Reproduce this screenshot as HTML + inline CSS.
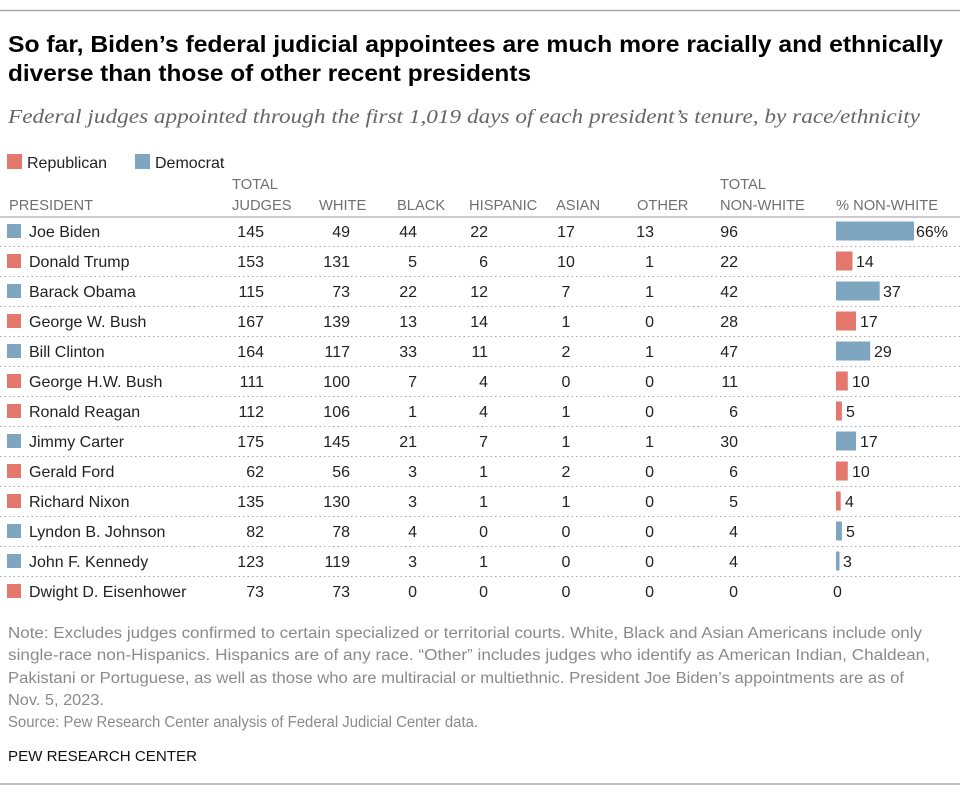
<!DOCTYPE html>
<html><head><meta charset="utf-8"><style>
html,body{margin:0;padding:0;background:#fff;}
svg{display:block;}
text{font-family:"Liberation Sans",sans-serif;}
</style></head><body>
<svg width="960" height="793" viewBox="0 0 960 793" xmlns="http://www.w3.org/2000/svg">
<line x1="0" y1="10.5" x2="960" y2="10.5" stroke="#aaa" stroke-width="1.5"/>
<text x="8" y="52" font-size="23" font-weight="bold" fill="#000" textLength="935" lengthAdjust="spacingAndGlyphs">So far, Biden’s federal judicial appointees are much more racially and ethnically</text>
<text x="8" y="81" font-size="23" font-weight="bold" fill="#000" textLength="523" lengthAdjust="spacingAndGlyphs">diverse than those of other recent presidents</text>
<text x="8" y="123" font-size="20" font-style="italic" fill="#666" style="font-family:'Liberation Serif',serif" textLength="912" lengthAdjust="spacingAndGlyphs">Federal judges appointed through the first 1,019 days of each president’s tenure, by race/ethnicity</text>
<rect x="7" y="154" width="15" height="15" fill="#e5786d"/>
<text x="27" y="168" font-size="16" fill="#222">Republican</text>
<rect x="135" y="154" width="15" height="15" fill="#7ea6c1"/>
<text x="155" y="168" font-size="16" fill="#222">Democrat</text>
<g font-size="14.7" fill="#707070">
<text x="232" y="189">TOTAL</text>
<text x="720" y="189">TOTAL</text>
<text x="9" y="210">PRESIDENT</text>
<text x="232" y="210">JUDGES</text>
<text x="319" y="210">WHITE</text>
<text x="397" y="210">BLACK</text>
<text x="469" y="210">HISPANIC</text>
<text x="556" y="210">ASIAN</text>
<text x="637" y="210">OTHER</text>
<text x="720" y="210">NON-WHITE</text>
<text x="836" y="210">% NON-WHITE</text>
</g>
<line x1="0" y1="217" x2="960" y2="217" stroke="#ccc" stroke-width="2"/>

<g stroke="#aaa" stroke-width="1" stroke-dasharray="1.5 3">
<line x1="0" y1="246.5" x2="960" y2="246.5"/>
<line x1="0" y1="276.5" x2="960" y2="276.5"/>
<line x1="0" y1="306.5" x2="960" y2="306.5"/>
<line x1="0" y1="336.5" x2="960" y2="336.5"/>
<line x1="0" y1="366.5" x2="960" y2="366.5"/>
<line x1="0" y1="396.5" x2="960" y2="396.5"/>
<line x1="0" y1="426.5" x2="960" y2="426.5"/>
<line x1="0" y1="456.5" x2="960" y2="456.5"/>
<line x1="0" y1="486.5" x2="960" y2="486.5"/>
<line x1="0" y1="516.5" x2="960" y2="516.5"/>
<line x1="0" y1="546.5" x2="960" y2="546.5"/>
<line x1="0" y1="576.5" x2="960" y2="576.5"/>
</g>

<g>
<rect x="7" y="224" width="14" height="14" fill="#7ea6c1"/>
<rect x="7" y="254" width="14" height="14" fill="#e5786d"/>
<rect x="7" y="284" width="14" height="14" fill="#7ea6c1"/>
<rect x="7" y="314" width="14" height="14" fill="#e5786d"/>
<rect x="7" y="344" width="14" height="14" fill="#7ea6c1"/>
<rect x="7" y="374" width="14" height="14" fill="#e5786d"/>
<rect x="7" y="404" width="14" height="14" fill="#e5786d"/>
<rect x="7" y="434" width="14" height="14" fill="#7ea6c1"/>
<rect x="7" y="464" width="14" height="14" fill="#e5786d"/>
<rect x="7" y="494" width="14" height="14" fill="#e5786d"/>
<rect x="7" y="524" width="14" height="14" fill="#7ea6c1"/>
<rect x="7" y="554" width="14" height="14" fill="#7ea6c1"/>
<rect x="7" y="584" width="14" height="14" fill="#e5786d"/>
</g>

<g font-size="16" fill="#222">
<text x="29" y="237">Joe Biden</text>
<text x="29" y="267">Donald Trump</text>
<text x="29" y="297">Barack Obama</text>
<text x="29" y="327">George W. Bush</text>
<text x="29" y="357">Bill Clinton</text>
<text x="29" y="387">George H.W. Bush</text>
<text x="29" y="417">Ronald Reagan</text>
<text x="29" y="447">Jimmy Carter</text>
<text x="29" y="477">Gerald Ford</text>
<text x="29" y="507">Richard Nixon</text>
<text x="29" y="537">Lyndon B. Johnson</text>
<text x="29" y="567">John F. Kennedy</text>
<text x="29" y="597">Dwight D. Eisenhower</text>
</g>

<g font-size="16" fill="#222" text-anchor="end">
<text x="264" y="237">145</text><text x="264" y="267">153</text><text x="264" y="297">115</text><text x="264" y="327">167</text><text x="264" y="357">164</text><text x="264" y="387">111</text><text x="264" y="417">112</text><text x="264" y="447">175</text><text x="264" y="477">62</text><text x="264" y="507">135</text><text x="264" y="537">82</text><text x="264" y="567">123</text><text x="264" y="597">73</text>

<text x="350" y="237">49</text><text x="350" y="267">131</text><text x="350" y="297">73</text><text x="350" y="327">139</text><text x="350" y="357">117</text><text x="350" y="387">100</text><text x="350" y="417">106</text><text x="350" y="447">145</text><text x="350" y="477">56</text><text x="350" y="507">130</text><text x="350" y="537">78</text><text x="350" y="567">119</text><text x="350" y="597">73</text>

<text x="417" y="237">44</text><text x="417" y="267">5</text><text x="417" y="297">22</text><text x="417" y="327">13</text><text x="417" y="357">33</text><text x="417" y="387">7</text><text x="417" y="417">1</text><text x="417" y="447">21</text><text x="417" y="477">3</text><text x="417" y="507">3</text><text x="417" y="537">4</text><text x="417" y="567">3</text><text x="417" y="597">0</text>

<text x="488" y="237">22</text><text x="488" y="267">6</text><text x="488" y="297">12</text><text x="488" y="327">14</text><text x="488" y="357">11</text><text x="488" y="387">4</text><text x="488" y="417">4</text><text x="488" y="447">7</text><text x="488" y="477">1</text><text x="488" y="507">1</text><text x="488" y="537">0</text><text x="488" y="567">1</text><text x="488" y="597">0</text>

<text x="654" y="237">13</text><text x="654" y="267">1</text><text x="654" y="297">1</text><text x="654" y="327">0</text><text x="654" y="357">1</text><text x="654" y="387">0</text><text x="654" y="417">0</text><text x="654" y="447">1</text><text x="654" y="477">0</text><text x="654" y="507">0</text><text x="654" y="537">0</text><text x="654" y="567">0</text><text x="654" y="597">0</text>

<text x="738" y="237">96</text><text x="738" y="267">22</text><text x="738" y="297">42</text><text x="738" y="327">28</text><text x="738" y="357">47</text><text x="738" y="387">11</text><text x="738" y="417">6</text><text x="738" y="447">30</text><text x="738" y="477">6</text><text x="738" y="507">5</text><text x="738" y="537">4</text><text x="738" y="567">4</text><text x="738" y="597">0</text>
</g>

<g font-size="16" fill="#222" text-anchor="middle">
<text x="566" y="237">17</text><text x="566" y="267">10</text><text x="566" y="297">7</text><text x="566" y="327">1</text><text x="566" y="357">2</text><text x="566" y="387">0</text><text x="566" y="417">1</text><text x="566" y="447">1</text><text x="566" y="477">2</text><text x="566" y="507">1</text><text x="566" y="537">0</text><text x="566" y="567">0</text><text x="566" y="597">0</text>
</g>

<g>
<rect x="836" y="221.5" width="78" height="19" fill="#7ea6c1"/>
<rect x="836" y="251.5" width="16.5" height="19" fill="#e5786d"/>
<rect x="836" y="281.5" width="43.7" height="19" fill="#7ea6c1"/>
<rect x="836" y="311.5" width="20" height="19" fill="#e5786d"/>
<rect x="836" y="341.5" width="34.2" height="19" fill="#7ea6c1"/>
<rect x="836" y="371.5" width="11.8" height="19" fill="#e5786d"/>
<rect x="836" y="401.5" width="5.9" height="19" fill="#e5786d"/>
<rect x="836" y="431.5" width="20" height="19" fill="#7ea6c1"/>
<rect x="836" y="461.5" width="11.8" height="19" fill="#e5786d"/>
<rect x="836" y="491.5" width="4.7" height="19" fill="#e5786d"/>
<rect x="836" y="521.5" width="5.9" height="19" fill="#7ea6c1"/>
<rect x="836" y="551.5" width="3.5" height="19" fill="#7ea6c1"/>
</g>
<g font-size="16" fill="#222">
<text x="916" y="237">66%</text>
<text x="856" y="267">14</text>
<text x="883" y="297">37</text>
<text x="860" y="327">17</text>
<text x="874" y="357">29</text>
<text x="852" y="387">10</text>
<text x="846" y="417">5</text>
<text x="860" y="447">17</text>
<text x="852" y="477">10</text>
<text x="845" y="507">4</text>
<text x="846" y="537">5</text>
<text x="843" y="567">3</text>
<text x="833" y="597">0</text>
</g>

<g font-size="15.5" fill="#8a8a8a">
<text x="8" y="638" textLength="914" lengthAdjust="spacingAndGlyphs">Note: Excludes judges confirmed to certain specialized or territorial courts. White, Black and Asian Americans include only</text>
<text x="8" y="660" textLength="922" lengthAdjust="spacingAndGlyphs">single-race non-Hispanics. Hispanics are of any race. “Other” includes judges who identify as American Indian, Chaldean,</text>
<text x="8" y="683" textLength="896" lengthAdjust="spacingAndGlyphs">Pakistani or Portuguese, as well as those who are multiracial or multiethnic. President Joe Biden’s appointments are as of</text>
<text x="8" y="705" textLength="96" lengthAdjust="spacingAndGlyphs">Nov. 5, 2023.</text>
<text x="8" y="727" textLength="470" lengthAdjust="spacingAndGlyphs">Source: Pew Research Center analysis of Federal Judicial Center data.</text>
</g>
<text x="8" y="761" font-size="15" fill="#111" textLength="189" lengthAdjust="spacingAndGlyphs">PEW RESEARCH CENTER</text>
<line x1="0" y1="784" x2="960" y2="784" stroke="#aaa" stroke-width="1.5"/>
</svg>
</body></html>
